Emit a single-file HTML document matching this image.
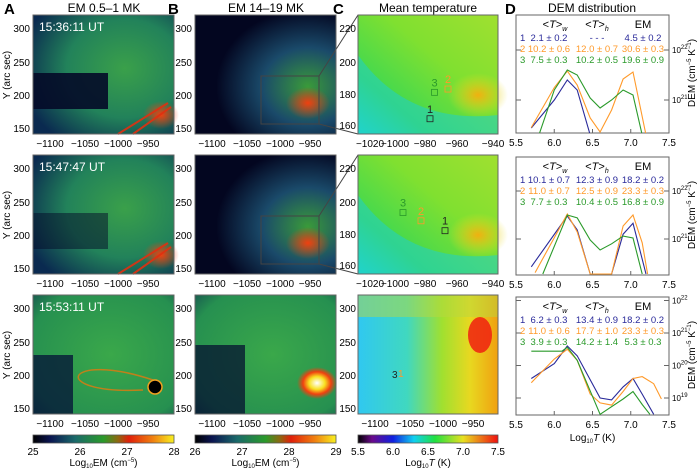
<!DOCTYPE html>
<html><head><meta charset="utf-8"><style>
body{margin:0;background:#fff;}
svg{display:block;font-family:"Liberation Sans",sans-serif;}
</style></head><body>
<svg id="fig" width="700" height="471" viewBox="0 0 700 471" xmlns="http://www.w3.org/2000/svg">
<defs>
<linearGradient id="cbEM" x1="0" x2="1"><stop offset="0" stop-color="#000"/><stop offset="0.12" stop-color="#0a1450"/><stop offset="0.3" stop-color="#1a6a6a"/><stop offset="0.5" stop-color="#2a9a2a"/><stop offset="0.6" stop-color="#8a6a10"/><stop offset="0.68" stop-color="#e0200a"/><stop offset="0.85" stop-color="#f08010"/><stop offset="1" stop-color="#f8f020"/></linearGradient>
<linearGradient id="cbT" x1="0" x2="1"><stop offset="0" stop-color="#000"/><stop offset="0.1" stop-color="#6a0a8a"/><stop offset="0.25" stop-color="#1020e0"/><stop offset="0.4" stop-color="#10d0f0"/><stop offset="0.55" stop-color="#20e040"/><stop offset="0.75" stop-color="#e8e020"/><stop offset="1" stop-color="#f01010"/></linearGradient>
<radialGradient id="gA1" cx="0.65" cy="0.45" r="0.75"><stop offset="0" stop-color="#3aa04a"/><stop offset="0.55" stop-color="#22825a"/><stop offset="1" stop-color="#0a2a50"/></radialGradient>
<radialGradient id="gB1" cx="0.8" cy="0.6" r="0.65"><stop offset="0" stop-color="#3a9a3a"/><stop offset="0.5" stop-color="#1a4a6a"/><stop offset="1" stop-color="#030620"/></radialGradient>
<radialGradient id="gA3" cx="0.55" cy="0.5" r="0.85"><stop offset="0" stop-color="#3aa84a"/><stop offset="0.7" stop-color="#269050"/><stop offset="1" stop-color="#103a50"/></radialGradient>
<radialGradient id="hot" cx="0.5" cy="0.5" r="0.5"><stop offset="0" stop-color="#f04010"/><stop offset="1" stop-color="#f04010" stop-opacity="0"/></radialGradient>
<radialGradient id="white" cx="0.5" cy="0.5" r="0.5"><stop offset="0" stop-color="#fff"/><stop offset="0.4" stop-color="#f8e020"/><stop offset="0.7" stop-color="#f04010"/><stop offset="1" stop-color="#f04010" stop-opacity="0"/></radialGradient>
<linearGradient id="gC" x1="0" y1="1" x2="1" y2="0"><stop offset="0" stop-color="#20d8d0"/><stop offset="0.25" stop-color="#40d850"/><stop offset="0.6" stop-color="#80e030"/><stop offset="1" stop-color="#a0e030"/></linearGradient>
<linearGradient id="gC3" x1="0" x2="1"><stop offset="0" stop-color="#30c8f0"/><stop offset="0.35" stop-color="#40d8c0"/><stop offset="0.6" stop-color="#a0e030"/><stop offset="0.8" stop-color="#e8d820"/><stop offset="1" stop-color="#f0a010"/></linearGradient>
<radialGradient id="yel" cx="0.5" cy="0.5" r="0.5"><stop offset="0" stop-color="#f0b010"/><stop offset="1" stop-color="#e8e020" stop-opacity="0"/></radialGradient>
</defs>
<g id="static"></g>
<g id="dem"></g>
</svg>
<script>
// DEM curve data (log10 T, log10 DEM) per row, per region
const temps1Blue=[5.7,6.0,6.17,6.3,6.47];
const dem1Blue=[20.44,21.0,21.4,21.2,20.3];
const temps1Orange=[5.7,6.0,6.17,6.3,6.47,6.6,6.75,6.9,7.03,7.2];
const dem1Orange=[20.45,21.25,21.58,21.3,20.64,20.36,20.8,21.42,21.56,20.3];
const temps1Green=[5.8,6.0,6.17,6.3,6.47,6.6,6.75,6.9,7.03,7.15];
const dem1Green=[20.3,21.2,21.6,21.5,21.04,20.84,21.0,21.2,21.1,20.3];
const temps2Blue=[5.7,6.17,6.3,6.47,6.75,6.9,7.03,7.2];
const dem2Blue=[20.42,21.48,21.19,20.27,20.27,21.1,21.33,20.27];
const temps2Orange=[5.75,6.17,6.3,6.47,6.75,6.9,7.03,7.15,7.22];
const dem2Orange=[20.3,21.52,21.15,20.27,20.27,21.27,21.5,20.92,20.27];
const temps2Green=[5.85,6.17,6.3,6.47,6.6,6.75,6.9,7.03,7.15];
const dem2Green=[20.27,21.5,21.44,20.98,20.77,20.9,21.06,21.02,20.27];
const temps3Blue=[5.7,6.0,6.17,6.3,6.6,6.75,6.9,7.03,7.15,7.3];
const dem3Blue=[19.6,20.06,20.6,20.3,19.0,18.94,19.34,19.6,19.12,18.5];
const temps3Orange=[5.7,6.0,6.17,6.3,6.47,6.6,6.75,6.9,7.03,7.15,7.3,7.4];
const dem3Orange=[19.47,20.2,20.5,20.16,19.12,18.85,18.78,19.2,19.6,19.66,19.44,18.97];
const temps3Green=[5.7,6.1,6.17,6.3,6.6,6.9,7.03,7.15,7.25];
const dem3Green=[20.44,20.44,20.56,20.16,18.5,18.97,19.2,18.8,18.5];
const xTicksD=[5.5,6.0,6.5,7.0,7.5];
const cbTicksA=["25","26","27","28"];
const cbTicksB=["26","27","28","29"];
const cbTicksC=["5.5","6.0","6.5","7.0","7.5"];

const NS="http://www.w3.org/2000/svg";
const st=document.getElementById('static'), dg=document.getElementById('dem');
function mk(tag,attrs,parent,txt){const e=document.createElementNS(NS,tag);for(const k in attrs)e.setAttribute(k,attrs[k]);if(txt!==undefined)e.textContent=txt;(parent||st).appendChild(e);return e;}

const rows=[15,155,295], H=119;
const cols=[{x:33,w:141},{x:195,w:141},{x:358,w:140}];
const C_BLUE="#2a2a9a",C_OR="#ff9a2a",C_GR="#2a9a2a";

[["A",4,"EM  0.5–1 MK",104],["B",168,"EM  14–19 MK",266],["C",333,"Mean temperature",428],["D",505,"DEM distribution",592]].forEach(p=>{
  const l=mk('text',{x:p[1],y:14,'font-size':15,'font-weight':'bold'},st,p[0]);
  
  
  const t=mk('text',{x:p[3],y:12,'font-size':12,'text-anchor':'middle'},st,p[2]);
  
  
});

const times=["15:36:11 UT","15:47:47 UT","15:53:11 UT"];
rows.forEach((y0,r)=>{
  const a=cols[0];
  const ga=mk('g',{});
  
  
  mk('rect',{x:a.x,y:y0,width:a.w,height:H,fill:r==2?'url(#gA3)':'url(#gA1)'},ga);
  if(r<2){mk('rect',{x:a.x,y:y0+58,width:75,height:36,fill:'#040a28',opacity:r==0?0.9:0.5},ga);
    mk('ellipse',{cx:a.x+128,cy:y0+100,rx:18,ry:14,fill:'url(#hot)'},ga);
    mk('path',{d:`M${a.x+85} ${y0+H} L${a.x+135} ${y0+88} M${a.x+100} ${y0+H} L${a.x+138} ${y0+92}`,stroke:'#e03010','stroke-width':2,opacity:0.9},ga);}
  else{mk('rect',{x:a.x,y:y0+60,width:40,height:59,fill:'#061838',opacity:0.8},ga);
    mk('path',{d:`M${a.x+120} ${y0+85} C ${a.x+30} ${y0+55}, ${a.x+15} ${y0+100}, ${a.x+110} ${y0+95}`,stroke:'#c0801a','stroke-width':1.5,fill:'none'},ga);
    mk('circle',{cx:a.x+122,cy:y0+92,r:7,fill:'#000',stroke:'#f0a020','stroke-width':1.5},ga);}
  const b=cols[1];
  const gb=mk('g',{});
  
  
  mk('rect',{x:b.x,y:y0,width:b.w,height:H,fill:r==2?'url(#gA3)':'url(#gB1)'},gb);
  if(r==2){mk('rect',{x:b.x,y:y0+50,width:50,height:69,fill:'#051030',opacity:0.75},gb);
    mk('ellipse',{cx:b.x+122,cy:y0+88,rx:20,ry:16,fill:'url(#white)'},gb);}
  else{mk('ellipse',{cx:b.x+113,cy:y0+88,rx:22,ry:16,fill:'url(#hot)'},gb);}
  if(r<2){mk('rect',{x:b.x+66,y:y0+61,width:58,height:48,fill:'none',stroke:'#444','stroke-width':1},gb);
    mk('path',{d:`M${b.x+124} ${y0+61} L${cols[2].x} ${y0} M${b.x+124} ${y0+109} L${cols[2].x} ${y0+H}`,stroke:'#444','stroke-width':1},st);}
  const c=cols[2];
  const gc=mk('g',{});
  
  
  if(r<2){mk('rect',{x:c.x,y:y0,width:c.w,height:H,fill:'url(#gC)'},gc);
    mk('ellipse',{cx:c.x+120,cy:y0+80,rx:30,ry:22,fill:'url(#yel)'},gc);
    mk('path',{d:`M${c.x} ${y0+40} Q ${c.x+50} ${y0+110} ${c.x+140} ${y0+100} L ${c.x+140} ${y0+H} L ${c.x} ${y0+H} Z`,fill:'#20d0c8',opacity:0.55},gc);}
  else{mk('rect',{x:c.x,y:y0,width:c.w,height:H,fill:'url(#gC3)'},gc);
    mk('rect',{x:c.x,y:y0,width:c.w,height:22,fill:'#b8d840',opacity:0.5},gc);
    mk('ellipse',{cx:c.x+122,cy:y0+40,rx:12,ry:18,fill:'#f02010',opacity:0.85},gc);}
  cols.forEach(cc=>mk('rect',{x:cc.x,y:y0,width:cc.w,height:H,fill:'none',stroke:'#666','stroke-width':1}));
  const tl=mk('text',{x:a.x+6,y:y0+16,'font-size':12,fill:'#fff'},st,times[r]);
  
  
});

const markers=[[[1,"#222",-980,165],[2,C_OR,-968,183],[3,C_GR,-977,181]],[[1,"#222",-970,182],[2,C_OR,-986,188],[3,C_GR,-998,193]]];
function cx1(v){return 358+(v+1020)/20*30+12;}
function cy1(v,y0){return y0+13+(220-v)/20*33;}
markers.forEach((m,r)=>m.forEach(k=>{
  const x=cx1(k[2]),y=cy1(k[3],rows[r]);
  mk('rect',{x:x-3,y:y-3,width:6,height:6,fill:'none',stroke:k[1],'stroke-width':0.8});
  const t=mk('text',{x:x,y:y-6,'font-size':11,fill:k[1],'text-anchor':'middle'},st,String(k[0]));
  
  
}));
mk('text',{x:392,y:rows[2]+83,'font-size':10,fill:'#222'},st,"3");
mk('text',{x:398,y:rows[2]+82,'font-size':10,fill:C_OR},st,"1");

const xA=["−1100","−1050","−1000","−950"], xAp=[50,85,118,148];
const yA=["300","250","200","150"], yAp=[13,47,80,113];
const xC=["−1020","−1000","−980","−960","−940"], xCp=[370,395,425,457,493];
const yC=["220","200","180","160"], yCp=[13,47,79,110];
rows.forEach((y0,r)=>{
  [0,1].forEach(ci=>{
    xA.forEach((t,i)=>mk('text',{x:xAp[i]+ci*162,y:y0+H+13,'font-size':10,'text-anchor':'middle'},st,t));
    yA.forEach((t,i)=>mk('text',{x:cols[ci].x-3,y:y0+yAp[i]+4,'font-size':10,'text-anchor':'end'},st,t));
  });
  if(r<2){xC.forEach((t,i)=>mk('text',{x:xCp[i],y:y0+H+13,'font-size':10,'text-anchor':'middle'},st,t));
    yC.forEach((t,i)=>mk('text',{x:356,y:y0+yCp[i]+4,'font-size':10,'text-anchor':'end'},st,t));}
  else{xA.forEach((t,i)=>mk('text',{x:xAp[i]+325,y:y0+H+13,'font-size':10,'text-anchor':'middle'},st,t));
    yA.forEach((t,i)=>mk('text',{x:356,y:y0+yAp[i]+4,'font-size':10,'text-anchor':'end'},st,t));}
  const yl=mk('text',{x:0,y:0,'font-size':10,'text-anchor':'middle',transform:`translate(10,${y0+60}) rotate(-90)`},st,"Y (arc sec)");
  
  
});

[[cols[0],'url(#cbEM)',cbTicksA,"EM"],[cols[1],'url(#cbEM)',cbTicksB,"EM"],[cols[2],'url(#cbT)',cbTicksC,"T"]].forEach((cb,i)=>{
  const r=mk('rect',{x:cb[0].x,y:435,width:cb[0].w,height:8,fill:cb[1],stroke:'#555','stroke-width':0.8});
  
  
  cb[2].forEach((t,j)=>mk('text',{x:cb[0].x+j*cb[0].w/(cb[2].length-1),y:455,'font-size':10,'text-anchor':'middle'},st,t));
  const lab=mk('text',{x:cb[0].x+cb[0].w/2,y:466,'font-size':10,'text-anchor':'middle'},st);
  if(cb[3]=="EM"){lab.innerHTML='Log<tspan font-size="6" dy="2">10</tspan><tspan dy="-2">EM (cm</tspan><tspan font-size="6" dy="-4">−5</tspan><tspan dy="4">)</tspan>';}
  else{lab.innerHTML='Log<tspan font-size="6" dy="2">10</tspan><tspan dy="-2" font-style="italic">T</tspan> (K)';}
  
  
});

const DX=516, DW=153;
const dyCfg=[{ref:21,refY:100,dec:50,top:15},{ref:21,refY:239,dec:48,top:157},{ref:21,refY:333,dec:32.5,top:297}];
function xD(t){return DX+(t-5.5)/2*DW;}
const tables=[
 [["2.1 ± 0.2","- - -","4.5 ± 0.2"],["10.2 ± 0.6","12.0 ± 0.7","30.6 ± 0.3"],["7.5 ± 0.3","10.2 ± 0.5","19.6 ± 0.9"]],
 [["10.1 ± 0.7","12.3 ± 0.9","18.2 ± 0.2"],["11.0 ± 0.7","12.5 ± 0.9","23.3 ± 0.3"],["7.7 ± 0.3","10.4 ± 0.5","16.8 ± 0.9"]],
 [["6.2 ± 0.3","13.4 ± 0.9","18.2 ± 0.2"],["11.0 ± 0.6","17.7 ± 1.0","23.3 ± 0.3"],["3.9 ± 0.3","14.2 ± 1.4","5.3 ± 0.3"]]];
const series=[[[temps1Blue,dem1Blue],[temps1Orange,dem1Orange],[temps1Green,dem1Green]],
 [[temps2Blue,dem2Blue],[temps2Orange,dem2Orange],[temps2Green,dem2Green]],
 [[temps3Blue,dem3Blue],[temps3Orange,dem3Orange],[temps3Green,dem3Green]]];
const cols3=[C_BLUE,C_OR,C_GR];
const decadeLabels=[[22,21],[22,21],[22,21,20,19]];
dyCfg.forEach((cfg,r)=>{
  const top=cfg.top, bot=top+118;
  const yD=v=>cfg.refY-(v-cfg.ref)*cfg.dec;
  const clip=mk('clipPath',{id:'clipD'+r},dg);
  mk('rect',{x:DX,y:top,width:DW,height:bot-top},clip);
  const fr=mk('rect',{x:DX,y:top,width:DW,height:bot-top,fill:'none',stroke:'#666','stroke-width':1},dg);
  
  
  xTicksD.forEach(t=>{
    mk('line',{x1:xD(t),x2:xD(t),y1:bot,y2:bot-4,stroke:'#666'},dg);
    mk('text',{x:xD(t),y:bot+13,'font-size':10,'text-anchor':'middle'},dg,t.toFixed(1));
  });
  decadeLabels[r].forEach(d=>{
    const y=yD(d);
    mk('line',{x1:DX+DW-5,x2:DX+DW,y1:y,y2:y,stroke:'#666'},dg);
    mk('line',{x1:DX,x2:DX+5,y1:y,y2:y,stroke:'#666'},dg);
    const t=mk('text',{x:DX+DW+3,y:y+3,'font-size':8},dg);
    t.innerHTML='10<tspan font-size="6" dy="-4">'+d+'</tspan>';
  });
  const yl=mk('text',{x:0,y:0,'font-size':10,'text-anchor':'middle',transform:`translate(${DX+DW+26},${top+58}) rotate(-90)`},dg);
  yl.innerHTML='DEM (cm<tspan font-size="6" dy="-4">−5</tspan><tspan dy="4"> K</tspan><tspan font-size="6" dy="-4">−1</tspan><tspan dy="4">)</tspan>';
  
  
  const hx=[DX+33,DX+81,DX+127];
  const h1=mk('text',{x:hx[0]+6,y:top+13,'font-size':11,'text-anchor':'middle'},dg);h1.innerHTML='&lt;<tspan font-style="italic">T</tspan>&gt;<tspan font-size="7" dy="3" font-style="italic">w</tspan>';
  const h2=mk('text',{x:hx[1],y:top+13,'font-size':11,'text-anchor':'middle'},dg);h2.innerHTML='&lt;<tspan font-style="italic">T</tspan>&gt;<tspan font-size="7" dy="3" font-style="italic">h</tspan>';
  mk('text',{x:hx[2],y:top+13,'font-size':11,'text-anchor':'middle'},dg,'EM');
  tables[r].forEach((row,i)=>{
    const ty=top+26+i*11;
    mk('text',{x:DX+4,y:ty,'font-size':9.5,fill:cols3[i]},dg,String(i+1));
    row.forEach((v,j)=>mk('text',{x:hx[j],y:ty,'font-size':9.5,fill:cols3[i],'text-anchor':'middle'},dg,v));
  });
  series[r].forEach((s,i)=>{
    const pts=s[0].map((t,k)=>xD(t).toFixed(1)+','+yD(s[1][k]).toFixed(1)).join(' ');
    const pl=mk('polyline',{points:pts,fill:'none',stroke:cols3[i],'stroke-width':1.1,'clip-path':`url(#clipD${r})`},dg);
    
    
  });
  if(r==2){
    const xl=mk('text',{x:DX+DW/2,y:bot+26,'font-size':10,'text-anchor':'middle'},dg);
    xl.innerHTML='Log<tspan font-size="6" dy="2">10</tspan><tspan dy="-2" font-style="italic">T</tspan> (K)';
    
    
  }
});
</script>
</body></html>
